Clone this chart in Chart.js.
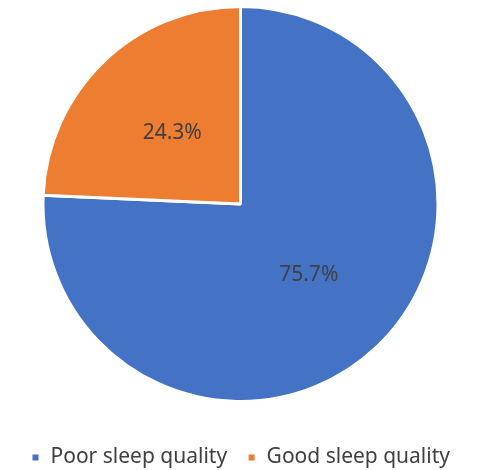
<!DOCTYPE html>
<html lang="en">
<head>
<meta charset="UTF-8" />
<title>Sleep quality</title>
<script src="https://cdn.jsdelivr.net/npm/chart.js"></script>
<style>
  html, body { margin: 0; padding: 0; background: #ffffff; }
  #wrap { width: 481px; height: 470px; }
</style>
</head>
<body>
<div id="wrap"><canvas id="pieChart"></canvas></div>
<script>
const categories = ['Poor sleep quality', 'Good sleep quality'];
const shares = [75.7, 24.3];
const sliceColors = ['#4472C4', '#ED7D31'];

const legendRoom = 16;  // extra height kept for the legend
const legendShift = 24; // how far the legend row is pushed down

// gives the legend a bit more room and pushes the row down
const legendTweak = {
  id: 'legendTweak',
  beforeLayout(chart) {
    const lg = chart.legend;
    if (!lg || lg._tweaked) return;
    lg._tweaked = true;
    const fit = lg.fit;
    lg.fit = function () {
      fit.call(this);
      this.height += legendRoom;
    };
    const draw = lg.draw;
    lg.draw = function () {
      this.ctx.save();
      this.ctx.translate(0, legendShift);
      draw.call(this);
      this.ctx.restore();
    };
  }
};

// percentage labels drawn inside each slice
const sliceLabels = {
  id: 'sliceLabels',
  afterDatasetsDraw(chart) {
    const ctx = chart.ctx;
    const meta = chart.getDatasetMeta(0);
    ctx.save();
    ctx.font = '21px "Noto Sans", sans-serif';
    ctx.fillStyle = '#404040';
    ctx.textAlign = 'center';
    ctx.textBaseline = 'middle';
    meta.data.forEach((arc, i) => {
      const mid = (arc.startAngle + arc.endAngle) / 2;
      const r = arc.outerRadius * 0.5;
      const x = arc.x + Math.cos(mid) * r;
      const y = arc.y + Math.sin(mid) * r;
      ctx.fillText(shares[i].toFixed(1) + '%', x, y);
    });
    ctx.restore();
  }
};

new Chart(document.getElementById('pieChart'), {
  type: 'pie',
  data: {
    labels: categories,
    datasets: [{
      data: shares,
      backgroundColor: sliceColors,
      borderColor: '#ffffff',
      borderWidth: 3
    }]
  },
  options: {
    responsive: true,
    maintainAspectRatio: false,
    animation: false,
    layout: { padding: { top: 5, bottom: 0 } },
    plugins: {
      tooltip: { enabled: false },
      legend: {
        position: 'bottom',
        labels: {
          font: { family: '"Noto Sans", sans-serif', size: 21 },
          color: '#404040',
          boxWidth: 9,
          boxHeight: 9,
          padding: 20
        }
      }
    }
  },
  plugins: [legendTweak, sliceLabels]
});
</script>
</body>
</html>
